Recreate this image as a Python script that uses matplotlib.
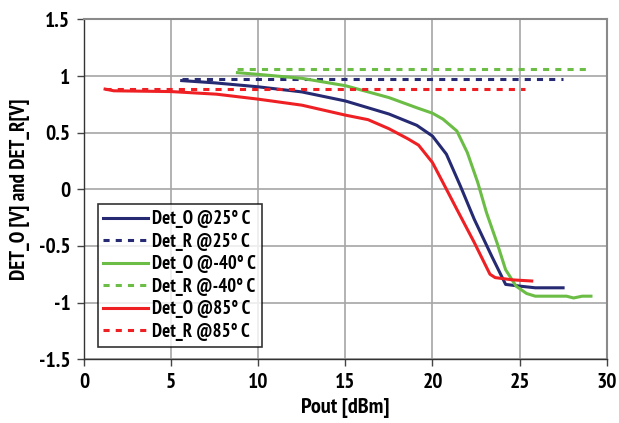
import matplotlib
matplotlib.use("Agg")
import matplotlib.pyplot as plt

plt.rcParams['font.family'] = ['PT Sans Narrow', 'DejaVu Sans']
plt.rcParams['font.weight'] = 'bold'

# Det_O @25°C
x_o25 = [5.6, 7.5, 10.0, 12.5, 15.0, 17.5, 19.1, 20.0, 20.8, 21.6, 22.4, 23.4, 24.2, 25.0, 25.9, 27.5]
y_o25 = [0.96, 0.94, 0.905, 0.86, 0.78, 0.665, 0.565, 0.47, 0.31, 0.03, -0.265, -0.59, -0.84, -0.855, -0.87, -0.87]
# Det_O @-40°C
x_om40 = [8.8, 10.0, 12.5, 15.0, 17.5, 19.1, 20.0, 20.6, 21.4, 22.0, 22.6, 23.1, 23.7, 24.2, 24.8, 25.4, 25.9, 27.7, 28.1, 28.6, 29.1]
y_om40 = [1.03, 1.015, 0.98, 0.915, 0.81, 0.72, 0.672, 0.62, 0.515, 0.325, 0.06, -0.205, -0.47, -0.71, -0.855, -0.92, -0.944, -0.944, -0.96, -0.944, -0.944]
# Det_O @85°C
x_o85 = [1.2, 1.7, 5.0, 7.6, 10.0, 12.5, 15.0, 16.3, 17.5, 18.6, 19.2, 20.0, 20.6, 21.4, 22.4, 23.3, 23.6, 24.6, 25.7]
y_o85 = [0.885, 0.87, 0.863, 0.84, 0.796, 0.743, 0.655, 0.615, 0.535, 0.445, 0.39, 0.236, 0.06, -0.177, -0.47, -0.75, -0.78, -0.80, -0.81]
# Det_R lines (x range and level)
x_r25 = [5.6, 27.5]
y_r25 = [0.975, 0.975]
x_rm40 = [8.8, 29.1]
y_rm40 = [1.065, 1.065]
x_r85 = [1.2, 25.3]
y_r85 = [0.89, 0.89]

labels = ["Det_O @25° C", "Det_R @25° C", "Det_O @-40° C", "Det_R @-40° C", "Det_O @85° C", "Det_R @85° C"]
xticks = [0, 5, 10, 15, 20, 25, 30]
yticks = [-1.5, -1, -0.5, 0, 0.5, 1, 1.5]
ytick_labels = ["-1.5", "-1", "-0.5", "0", "0.5", "1", "1.5"]

c_blue = "#252a72"
c_green = "#6bbd45"
c_red = "#ee2024"

fig = plt.figure(figsize=(6.19, 4.23), dpi=100)
ax = fig.add_axes([0.136, 0.151, 0.844, 0.803])

lw = 2.2
dash = (0, (2.0, 2.0))
ax.plot(x_o25, y_o25, color=c_blue, lw=lw, label=labels[0])
ax.plot(x_r25, y_r25, color=c_blue, lw=lw, ls=dash, label=labels[1])
ax.plot(x_om40, y_om40, color=c_green, lw=lw, label=labels[2])
ax.plot(x_rm40, y_rm40, color=c_green, lw=lw, ls=dash, label=labels[3])
ax.plot(x_o85, y_o85, color=c_red, lw=lw, label=labels[4])
ax.plot(x_r85, y_r85, color=c_red, lw=lw, ls=dash, label=labels[5])

ax.set_xlim(0, 30)
ax.set_ylim(-1.5, 1.5)
ax.set_xticks(xticks)
ax.set_yticks(yticks)
ax.set_yticklabels(ytick_labels)
ax.grid(True, color="#a6a6a6", lw=1.2)
ax.set_axisbelow(True)
ax.tick_params(axis='both', labelsize=15.5, length=5, width=1, color="#444444", direction='out', pad=5)
for lab in ax.get_xticklabels() + ax.get_yticklabels():
    lab.set_fontweight('bold')
for s in ['left', 'bottom']:
    ax.spines[s].set_color("#333333")
    ax.spines[s].set_linewidth(1.0)
for s in ['top', 'right']:
    ax.spines[s].set_color("#8a8a8a")
    ax.spines[s].set_linewidth(1.5)

ax.set_xlabel("Pout [dBm]", fontsize=16, fontweight='bold', labelpad=4)
ax.set_ylabel("DET_O [V] and DET_R[V]", fontsize=15, fontweight='bold', labelpad=6)

leg = ax.legend(loc='lower left', bbox_to_anchor=(0.026, 0.037), fontsize=13.5, frameon=True,
                fancybox=False, edgecolor='black', handlelength=2.4, handletextpad=0.2,
                labelspacing=0.24, borderpad=0.3, borderaxespad=0.0)
leg.get_frame().set_linewidth(1.2)
for t in leg.get_texts():
    t.set_fontweight('bold')

fig.savefig("out.png", dpi=100)
